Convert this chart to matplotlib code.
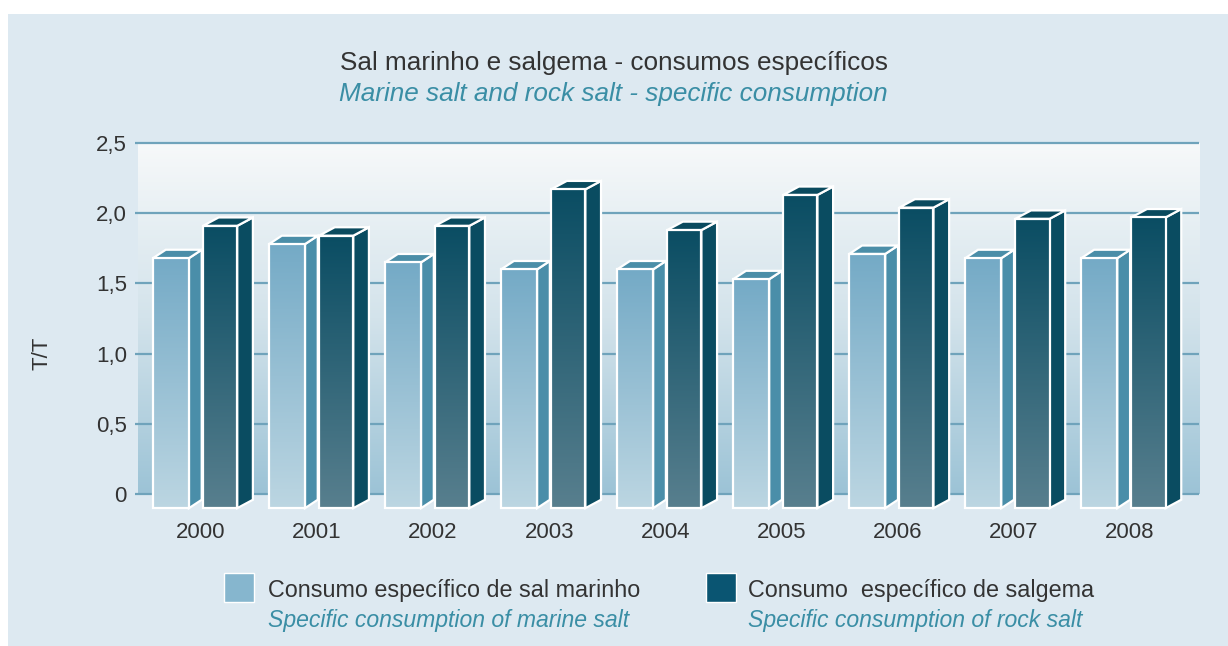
import numpy as np
import matplotlib.pyplot as plt
from matplotlib.patches import Polygon, Rectangle
from matplotlib.colors import LinearSegmentedColormap

plt.rcParams['font.family'] = ['Liberation Sans', 'DejaVu Sans']

years = ['2000', '2001', '2002', '2003', '2004', '2005', '2006', '2007', '2008']
marine = [1.74, 1.84, 1.71, 1.66, 1.66, 1.59, 1.77, 1.74, 1.74]
rock = [1.97, 1.90, 1.97, 2.23, 1.94, 2.19, 2.10, 2.02, 2.03]
yticks = [0, 0.5, 1.0, 1.5, 2.0, 2.5]
ytick_labels = ['0', '0,5', '1,0', '1,5', '2,0', '2,5']

title_pt = 'Sal marinho e salgema - consumos específicos'
title_en = 'Marine salt and rock salt - specific consumption'
legend_pt = ['Consumo específico de sal marinho', 'Consumo  específico de salgema']
legend_en = ['Specific consumption of marine salt', 'Specific consumption of rock salt']

W, H = 1228, 646
TEXT = '#333333'
TEAL = '#3a8ea5'

fig = plt.figure(figsize=(W / 100, H / 100), dpi=100)
fig.patch.set_facecolor('white')
fig.add_artist(Rectangle((8 / W, 0), 1, 1 - 14 / H, transform=fig.transFigure,
                         facecolor='#dde9f1', edgecolor='none', zorder=-10))

ax = fig.add_axes([138 / W, (H - 511) / H, (1199 - 138) / W, (511 - 143) / H])
ax.set_facecolor('none')
x0, x1 = -0.543, 8.60

# plot area gradient
bg_cmap = LinearSegmentedColormap.from_list('bg', ['#9cc3d6', '#d3e3eb', '#f7f9fa'])
grad = np.linspace(0, 1, 256).reshape(-1, 1)
ax.imshow(grad, extent=(x0, x1, 0, 2.5), origin='lower', aspect='auto',
          cmap=bg_cmap, zorder=0)
ax.hlines(yticks, x0 - 0.03, x1, color='#6fa3bb', lw=1.6, clip_on=False, zorder=1)

light_cmap = LinearSegmentedColormap.from_list('light', ['#bcd6e2', '#74aac6'])
dark_cmap = LinearSegmentedColormap.from_list('dark', ['#587f8e', '#0a4d63'])

base, dy = -0.04, 0.06


def draw_bar(xl, w, v, dx, cmap, side_c, top_c):
    yb, yt = base - dy, v - dy
    side = Polygon([(xl + w, yb), (xl + w + dx, base), (xl + w + dx, v), (xl + w, yt)],
                   closed=True, facecolor=side_c, edgecolor='white', lw=1.6,
                   joinstyle='miter', clip_on=False, zorder=3)
    top = Polygon([(xl, yt), (xl + dx, v), (xl + w + dx, v), (xl + w, yt)],
                  closed=True, facecolor=top_c, edgecolor='white', lw=1.6,
                  joinstyle='miter', clip_on=False, zorder=3)
    ax.add_patch(side)
    ax.add_patch(top)
    front = Rectangle((xl, yb), w, yt - yb, facecolor='none', edgecolor='white',
                      lw=1.6, joinstyle='miter', clip_on=False, zorder=5)
    ax.add_patch(front)
    im = ax.imshow(grad, extent=(xl, xl + w, yb, yt), origin='lower',
                   aspect='auto', cmap=cmap, zorder=4)
    im.set_clip_path(front)


for i in range(len(years)):
    draw_bar(i - 0.414, 0.31, marine[i], 0.11, light_cmap, '#4a8ea9', '#4b8ea8')
    draw_bar(i + 0.017, 0.295, rock[i], 0.135, dark_cmap, '#0a4c61', '#0a4a5e')

ax.set_xlim(x0, x1)
ax.set_ylim(-0.12, 2.5)
for s in ax.spines.values():
    s.set_visible(False)
ax.set_yticks(yticks, ytick_labels)
ax.set_xticks(range(len(years)), years)
ax.tick_params(axis='y', length=0, pad=8, labelsize=16, labelcolor=TEXT)
ax.tick_params(axis='x', length=0, pad=8, labelsize=16, labelcolor=TEXT)

fig.text(42 / W, (H - 353) / H, 'T/T', rotation=90, ha='center', va='center',
         fontsize=16, color=TEXT)

fig.text(0.4996, (H - 63) / H, title_pt, ha='center', va='center',
         fontsize=18.8, color=TEXT)
fig.text(0.4996, (H - 94) / H, title_en, ha='center', va='center',
         fontsize=18.8, color=TEAL, style='italic')

# legend
for sx, tx, col, pt, en in [(224, 268, '#86b6ce', legend_pt[0], legend_en[0]),
                            (706, 748, '#0a5572', legend_pt[1], legend_en[1])]:
    fig.add_artist(Rectangle((sx / W, (H - 602) / H), 30 / W, 29 / H,
                             transform=fig.transFigure, facecolor=col,
                             edgecolor='white', lw=1))
    fig.text(tx / W, (H - 590) / H, pt, ha='left', va='center',
             fontsize=16.8, color=TEXT)
    fig.text(tx / W, (H - 621) / H, en, ha='left', va='center',
             fontsize=16.6, color=TEAL, style='italic')

fig.savefig('out.png', dpi=100)
